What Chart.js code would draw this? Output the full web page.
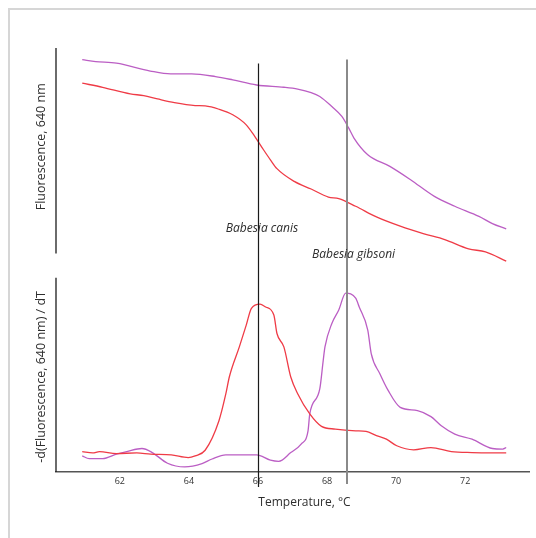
<!doctype html>
<html lang="en">
<head>
<meta charset="utf-8">
<title>Babesia melting curves</title>
<style>
  html, body { margin: 0; padding: 0; background: #fff; }
  #frame { position: absolute; left: 8px; top: 8px; width: 528px; height: 530px;
           border-left: 2px solid #d6d6d6; border-top: 2px solid #d6d6d6; box-sizing: border-box; }
  #wrap { position: absolute; left: 0; top: 0; width: 536px; height: 538px; }
</style>
</head>
<body>
<div id="frame"></div>
<div id="wrap"><canvas id="meltChart"></canvas></div>

<script src="https://cdn.jsdelivr.net/npm/chart.js"></script>
<script>
// melting curve (top panel)
const topRedTemps = [60.91,61.50,62.30,62.69,63.09,63.58,64.18,64.47,64.87,65.27,65.66,65.91,66.16,66.36,66.55,67.05,67.54,68.04,68.34,68.83,69.43,70.12,70.81,71.41,72.10,72.59,73.19];
const topRedValues = [82.9,80.9,77.7,76.8,75.2,73.4,72.0,71.8,70.2,67.5,62.6,56.9,50.5,45.6,41.3,35.1,31.4,27.5,26.7,23.0,17.8,13.3,9.6,6.8,2.3,0.8,-3.7];
const topPurpleTemps = [60.91,61.30,61.90,62.88,63.47,64.08,64.77,65.27,65.96,66.75,67.15,67.54,67.79,68.14,68.43,68.63,68.78,69.18,69.82,70.42,71.11,71.70,72.40,72.79,73.19];
const topPurpleValues = [94.3,93.4,92.6,88.8,87.4,87.4,86.1,84.5,82.0,80.9,80.0,78.3,76.4,71.5,66.7,61.0,56.2,48.1,42.4,35.9,27.8,23.0,18.1,14.6,12.0];

// derivative curve (bottom panel)
const botRedTemps = [60.91,61.21,61.41,61.90,62.49,62.89,63.49,63.98,64.18,64.47,64.87,65.07,65.17,65.46,65.66,65.81,66.06,66.21,66.46,66.55,66.75,66.95,67.15,67.50,67.84,68.24,68.83,69.13,69.43,69.72,70.02,70.51,71.01,71.60,72.20,73.19];
const botRedValues = [10.5,9.8,10.5,9.5,9.8,9.2,8.8,7.4,8.3,11.2,26.4,40.3,48.9,64.4,75.6,84.3,86.4,85.1,80.8,71.3,64.4,48.9,40.3,29.9,23.5,22.1,21.2,20.9,18.7,16.9,13.5,11.4,12.6,10.5,10.0,9.8];
const botPurpleTemps = [60.91,61.11,61.50,61.90,62.20,62.64,62.94,63.38,63.88,64.38,64.67,65.07,65.96,66.36,66.60,66.95,67.25,67.45,67.50,67.79,67.89,67.94,68.14,68.34,68.54,68.83,68.93,69.18,69.28,69.53,69.77,70.12,70.62,71.01,71.31,71.70,72.20,72.79,73.09,73.19];
const botPurpleValues = [8.3,6.9,6.9,9.2,10.5,12.1,10.0,4.5,2.6,4.3,6.7,8.8,8.8,6.1,5.5,10.0,14.4,21.2,29.9,42.8,57.5,64.4,76.5,83.4,92.1,89.5,85.1,73.1,61.0,50.6,42.0,33.3,31.6,28.5,23.8,19.5,16.9,12.1,11.8,12.6];

const xTicks = [62, 64, 66, 68, 70, 72];
const markerTemps = [66.0, 68.58];
const markerLabels = ['Babesia canis', 'Babesia gibsoni'];
const markerTops = [92.4, 94.4];      // where each line starts, top panel units
const markerLabelLevels = [12.3, -0.3]; // label height, top panel units
const yTitles = ['Fluorescence, 640 nm', '-d(Fluorescence, 640 nm) / dT'];

const RED = '#ef3b46';
const PURPLE = '#bb5ec4';
const FONT = "'Open Sans', 'DejaVu Sans', sans-serif";

function pts(xs, ys) {
    return xs.map((x, i) => ({ x: x, y: ys[i] }));
}

const markerPlugin = {
    id: 'markers',
    afterDatasetsDraw(chart) {
        const ctx = chart.ctx;
        const xs = chart.scales.x, yTop = chart.scales.yTop, yBot = chart.scales.yBot;
        const area = chart.chartArea;
        ctx.save();

        // y axis lines, one per panel
        const spans = [
            [yTop.getPixelForValue(100), yTop.getPixelForValue(0)],
            [yBot.getPixelForValue(100), yBot.getPixelForValue(0)]
        ];
        ctx.strokeStyle = '#1e1e1e';
        ctx.lineWidth = 1.3;
        ctx.beginPath();
        spans.forEach(s => { ctx.moveTo(area.left, s[0]); ctx.lineTo(area.left, s[1]); });
        ctx.stroke();

        // y titles, centred on their axis line
        ctx.fillStyle = '#2e2e2e';
        ctx.font = "12.5px " + FONT;
        ctx.textAlign = 'center';
        ctx.textBaseline = 'middle';
        spans.forEach((s, i) => {
            ctx.save();
            ctx.translate(41, (s[0] + s[1]) / 2 + (i === 0 ? -4 : 2));
            ctx.rotate(-Math.PI / 2);
            ctx.fillText(yTitles[i], 0, 0);
            ctx.restore();
        });

        // melting point lines
        markerTemps.forEach((t, i) => {
            const px = Math.round(xs.getPixelForValue(t)) + (i === 0 ? 0.5 : 0);
            ctx.strokeStyle = i === 0 ? '#1a1a1a' : '#8a8a8a';
            ctx.lineWidth = i === 0 ? 1.2 : 2;
            ctx.beginPath();
            ctx.moveTo(px, yTop.getPixelForValue(markerTops[i]));
            ctx.lineTo(px, area.bottom + (i === 0 ? 15 : 12));
            ctx.stroke();
        });

        // species labels
        ctx.fillStyle = '#2e2e2e';
        ctx.font = "italic 12px " + FONT;
        markerLabels.forEach((lab, i) => {
            const px = xs.getPixelForValue(markerTemps[i]) + (i === 0 ? 4 : 6.5);
            ctx.fillText(lab, px, yTop.getPixelForValue(markerLabelLevels[i]));
        });

        // x axis title
        ctx.font = "12px " + FONT;
        ctx.fillText('Temperature, °C', (area.left + area.right) / 2 + 12, 503);
        ctx.restore();
    }
};

new Chart(document.getElementById('meltChart'), {
    type: 'line',
    data: {
        datasets: [
            { data: pts(topPurpleTemps, topPurpleValues), yAxisID: 'yTop', borderColor: PURPLE },
            { data: pts(topRedTemps, topRedValues), yAxisID: 'yTop', borderColor: RED },
            { data: pts(botRedTemps, botRedValues), yAxisID: 'yBot', borderColor: RED },
            { data: pts(botPurpleTemps, botPurpleValues), yAxisID: 'yBot', borderColor: PURPLE }
        ]
    },
    options: {
        responsive: true,
        maintainAspectRatio: false,
        animation: false,
        layout: { padding: { left: 34, top: 48, right: 7, bottom: 27 } },
        elements: {
            point: { radius: 0 },
            line: { borderWidth: 1.3, cubicInterpolationMode: 'monotone', fill: false }
        },
        plugins: { legend: { display: false }, tooltip: { enabled: false } },
        scales: {
            x: {
                type: 'linear',
                min: 60.15,
                max: 73.85,
                grid: { display: false, drawTicks: false },
                border: { display: true, color: '#555', width: 1.5 },
                afterBuildTicks: s => { s.ticks = xTicks.map(v => ({ value: v })); },
                afterFit: s => { s.height = 39; },
                ticks: { color: '#333', font: { family: FONT, size: 9 }, padding: 4 }
            },
            yBot: {
                type: 'linear',
                position: 'left',
                stack: 'panels',
                stackWeight: 2.02,
                min: 0,
                max: 104,
                grid: { display: false },
                border: { display: false },
                ticks: { display: false },
                afterFit: s => { s.width = 22; }
            },
            yTop: {
                type: 'linear',
                position: 'left',
                stack: 'panels',
                stackWeight: 2.22,
                min: -8,
                max: 100,
                grid: { display: false },
                border: { display: false },
                ticks: { display: false },
                afterFit: s => { s.width = 22; }
            }
        }
    },
    plugins: [markerPlugin]
});
</script>
</body>
</html>
